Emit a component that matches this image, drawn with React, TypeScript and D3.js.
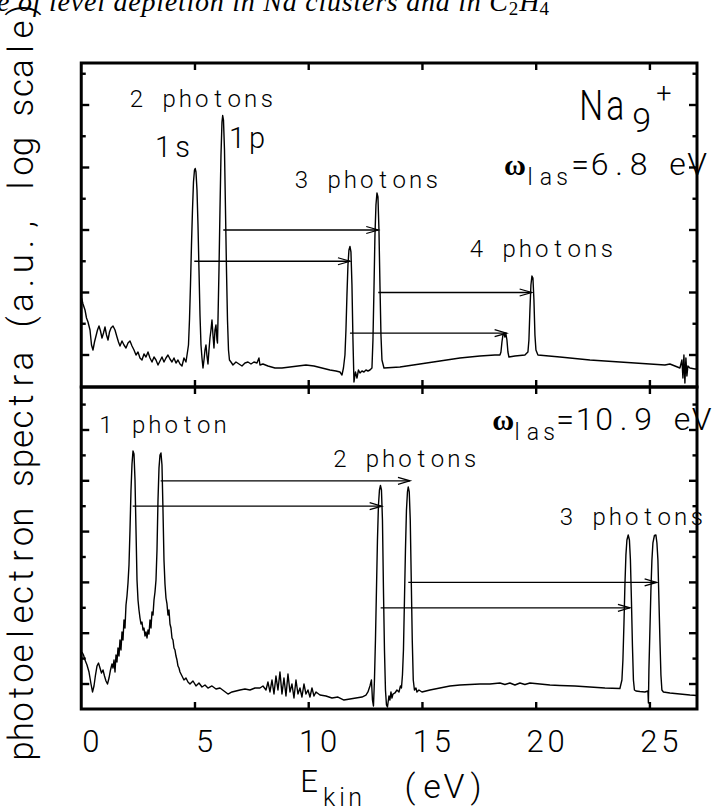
import React from 'react';
import * as d3 from 'd3';

const W = 712;
const H = 809;

// ---------- data: kinetic energy (eV) and log10 intensity (decades) ----------
const topEnergy = [
  0.01, 0.077, 0.165, 0.231, 0.297, 0.385, 0.451, 0.516, 0.582, 0.648, 0.714, 0.78, 0.846, 0.912, 0.978,
  1.044, 1.11, 1.176, 1.242, 1.308, 1.396, 1.484, 1.571, 1.637, 1.703, 1.791, 1.879, 1.967, 2.055, 2.143,
  2.231, 2.319, 2.407, 2.495, 2.582, 2.67, 2.758, 2.846, 2.934, 3.022, 3.11, 3.198, 3.286, 3.374, 3.462,
  3.549, 3.637, 3.725, 3.813, 3.901, 3.989, 4.077, 4.165, 4.253, 4.341, 4.429, 4.516, 4.604, 4.67, 4.714,
  4.758, 4.802, 4.846, 4.89, 4.934, 4.978, 5.009, 5.044, 5.088, 5.132, 5.176, 5.22, 5.264, 5.308, 5.352,
  5.396, 5.44, 5.484, 5.527, 5.571, 5.615, 5.659, 5.703, 5.747, 5.791, 5.835, 5.879, 5.923, 5.967, 5.989,
  6.011, 6.055, 6.099, 6.143, 6.187, 6.218, 6.253, 6.297, 6.341, 6.385, 6.429, 6.473, 6.516, 6.582,
  6.67, 6.802, 6.934, 7.066, 7.198, 7.33, 7.462, 7.593, 7.725, 7.813, 7.857, 7.989, 8.209, 8.516, 8.824,
  9.176, 9.527, 9.879, 10.231, 10.582, 10.934, 11.198, 11.374, 11.462, 11.527, 11.593,
  11.637, 11.681, 11.725, 11.769, 11.813, 11.857, 11.901, 11.945, 11.989, 12.055, 12.121, 12.187, 12.253,
  12.341, 12.429, 12.516, 12.604, 12.692, 12.78,
  12.824, 12.868, 12.912, 12.956, 13.0, 13.044, 13.088, 13.132, 13.176, 13.22, 13.308, 14.011, 14.89,
  15.769, 16.648, 17.527, 18.187, 18.407,
  18.451, 18.495, 18.538, 18.582, 18.626, 18.67, 18.714, 18.758, 18.802, 19.066, 19.505, 19.637,
  19.681, 19.725, 19.769, 19.813, 19.857, 19.901, 19.945, 19.989, 20.077, 21.044, 22.363, 23.681, 25.0,
  25.659, 25.879, 26.099, 26.319, 26.407, 26.451, 26.495, 26.538, 26.582, 26.626, 26.67, 26.758, 26.978, 27.066,
];
const topLogI = [
  0.912, 0.816, 0.72, 0.592, 0.528, 0.4, 0.16, 0.08, 0.208, 0.304, 0.4, 0.464, 0.384, 0.272, 0.352,
  0.448, 0.32, 0.24, 0.368, 0.432, 0.464, 0.4, 0.288, 0.208, 0.144, 0.224, 0.16, 0.112, 0.192, 0.224,
  0.144, 0.08, 0.0, 0.048, -0.048, -0.08, 0.016, -0.032, 0.048, -0.048, -0.112, -0.032, -0.08, -0.16, -0.096,
  -0.032, -0.112, -0.048, 0.0, -0.064, -0.112, -0.048, -0.128, -0.08, -0.144, -0.176, -0.048, -0.112, 0.048, 0.16,
  0.56, 1.12, 1.76, 2.32, 2.768, 2.96, 2.984, 2.928, 2.64, 2.08, 1.36, 0.64, 0.16, -0.048, -0.208,
  -0.08, 0.08, 0.16, -0.016, -0.144, 0.08, 0.272, 0.4, 0.56, 0.32, 0.112, 0.4, 0.48, 0.24, 0.192,
  0.56, 1.36, 2.32, 3.2, 3.728, 3.832, 3.76, 3.28, 2.32, 1.36, 0.56, 0.08, -0.08, -0.112,
  -0.16, -0.112, -0.144, -0.176, -0.128, -0.112, -0.144, -0.112, -0.128, -0.048, -0.16, -0.144, -0.176, -0.208, -0.208,
  -0.192, -0.176, -0.16, -0.176, -0.208, -0.24, -0.256, -0.272, -0.32, -0.208, 0.0,
  0.4, 0.96, 1.44, 1.68, 1.736, 1.648, 1.12, 0.24, -0.432, -0.272, -0.368, -0.24, -0.288,
  -0.256, -0.272, -0.24, -0.256, -0.24, -0.208,
  0.24, 1.04, 1.92, 2.4, 2.592, 2.528, 2.0, 1.12, 0.32, -0.08, -0.208, -0.192, -0.144,
  -0.096, -0.048, -0.016, 0.0, 0.0,
  0.048, 0.208, 0.32, 0.344, 0.288, 0.336, 0.24, 0.048, -0.032, -0.016, 0.0, 0.048,
  0.24, 0.72, 1.12, 1.264, 1.232, 0.88, 0.32, 0.08, 0.0, -0.032, -0.08, -0.112, -0.144,
  -0.16, -0.144, -0.176, -0.208, -0.08, -0.368, 0.0, -0.448, -0.048, -0.336, -0.176, -0.208, -0.224, -0.224,
];

const botEnergy = [
  0.033, 0.099, 0.165, 0.253, 0.341, 0.429, 0.495, 0.56, 0.626, 0.692, 0.758, 0.824, 0.89, 0.956, 1.022,
  1.088, 1.154, 1.22, 1.286, 1.352, 1.396, 1.44, 1.484, 1.527, 1.571, 1.615, 1.659, 1.703, 1.747, 1.791,
  1.835, 1.879, 1.923, 1.967, 2.011, 2.055, 2.099, 2.143, 2.187, 2.231, 2.275, 2.319, 2.363, 2.407, 2.451,
  2.495, 2.538, 2.582, 2.626, 2.67, 2.714, 2.758, 2.802, 2.846, 2.89, 2.934, 2.978, 3.022, 3.066, 3.11,
  3.154, 3.198, 3.242, 3.286, 3.33, 3.374, 3.418, 3.462, 3.505, 3.549, 3.593, 3.637, 3.681, 3.725, 3.769,
  3.813, 3.857, 3.901, 3.945, 3.989, 4.033, 4.077, 4.121, 4.165, 4.209, 4.253, 4.297, 4.341, 4.429, 4.516,
  4.604, 4.692, 4.78, 4.912, 5.044, 5.176, 5.308, 5.44, 5.571, 5.747, 5.923, 6.099, 6.275, 6.451, 6.626,
  6.802, 6.978, 7.198, 7.418, 7.637, 7.857,
  7.989, 8.121, 8.209, 8.297, 8.385, 8.473, 8.56, 8.648, 8.736, 8.824, 8.912, 9.0, 9.088, 9.176, 9.264,
  9.352, 9.44, 9.527, 9.615, 9.703, 9.791, 9.879, 9.967, 10.055, 10.143, 10.231, 10.319, 10.495, 10.758,
  11.022, 11.286, 11.549, 11.813, 12.077, 12.341, 12.516, 12.604, 12.692, 12.758, 12.802, 12.846,
  12.89, 12.934, 12.978, 13.022, 13.066, 13.11, 13.154, 13.198, 13.242, 13.286, 13.33, 13.374, 13.418, 13.462,
  13.527, 13.571, 13.615, 13.659, 13.703, 13.791, 13.879, 13.967, 14.033, 14.077, 14.121,
  14.165, 14.209, 14.253, 14.297, 14.341, 14.376, 14.42, 14.464, 14.508, 14.552, 14.596, 14.648, 14.714,
  14.758, 14.846, 14.978, 15.33, 15.769, 16.209, 16.648, 17.088, 17.527, 17.967, 18.407, 18.626, 18.846,
  19.066, 19.286, 19.505, 19.725, 20.165, 20.604, 21.044, 21.703, 22.363, 23.022, 23.681, 23.769,
  23.813, 23.857, 23.901, 23.945, 23.989, 24.046, 24.099, 24.143, 24.187, 24.231, 24.275, 24.319, 24.385,
  24.56, 24.78, 24.912, 24.934, 24.956,
  25.0, 25.044, 25.088, 25.132, 25.198, 25.264, 25.308, 25.352, 25.396, 25.44, 25.484, 25.527, 25.593,
  25.879, 26.319, 26.758, 27.066,
];
const botLogI = [
  0.63, 0.571, 0.472, 0.374, 0.236, 0.0, -0.157, -0.039, 0.177, 0.354, 0.413, 0.315, 0.217, 0.276, 0.157,
  0.059, 0.0, 0.118, 0.276, 0.394, 0.315, 0.472, 0.236, 0.571, 0.433, 0.709, 0.551, 0.866, 0.669, 1.024,
  0.866, 1.26, 1.102, 1.555, 1.732, 1.988, 2.343, 3.031, 3.819, 4.331, 4.587, 4.528, 4.016, 3.031, 2.047,
  1.654, 1.457, 1.299, 1.181, 1.22, 1.063, 1.102, 0.945, 1.024, 0.906, 1.063, 0.984, 1.26, 1.102, 1.417,
  1.358, 1.654, 1.811, 2.047, 2.638, 3.622, 4.252, 4.508, 4.547, 4.311, 3.425, 2.441, 1.969, 1.693, 1.575,
  1.358, 1.457, 1.181, 1.102, 0.906, 0.866, 0.709, 0.669, 0.551, 0.472, 0.354, 0.315, 0.236, 0.157, 0.079,
  0.118, 0.039, 0.0, 0.059, -0.039, 0.02, -0.059, -0.02, -0.079, -0.039, -0.098, -0.079, -0.138, -0.197, -0.157,
  -0.138, -0.118, -0.098, -0.118, -0.079, -0.079,
  -0.039, -0.118, 0.039, -0.157, 0.079, -0.197, 0.157, -0.118, 0.236, -0.197, 0.118, -0.236, 0.197, -0.157, 0.0,
  -0.276, 0.079, -0.197, -0.079, -0.256, 0.0, -0.197, -0.118, -0.256, -0.079, -0.236, -0.157, -0.217, -0.236,
  -0.276, -0.256, -0.315, -0.295, -0.276, -0.256, -0.217, -0.157, -0.039, 0.079, -0.315, -0.433,
  0.079, 0.866, 1.85, 2.835, 3.524, 3.819, 3.907, 3.819, 3.228, 1.85, 0.669, -0.118, -0.413, -0.453,
  -0.236, -0.315, -0.157, -0.276, -0.197, -0.177, -0.118, -0.157, -0.039, -0.079, 0.177,
  0.669, 1.654, 2.638, 3.425, 3.78, 3.878, 3.78, 3.228, 2.047, 0.866, 0.079, -0.118, -0.079,
  -0.157, -0.118, -0.157, -0.118, -0.079, -0.039, -0.02, -0.01, 0.0, 0.0, 0.02, -0.01, 0.02,
  -0.02, 0.02, -0.01, 0.02, 0.0, -0.02, -0.03, -0.039, -0.059, -0.079, -0.089, 0.079,
  0.472, 1.161, 1.949, 2.539, 2.835, 2.933, 2.835, 2.441, 1.654, 0.768, 0.079, -0.118, -0.138,
  -0.148, -0.157, -0.138, -0.374, 0.276,
  1.063, 1.85, 2.441, 2.776, 2.923, 2.933, 2.776, 2.441, 1.654, 0.866, 0.177, -0.118, -0.157,
  -0.177, -0.197, -0.217, -0.226,
];

// arrows: from energy, to energy, level (log10)
const topArrowFrom = [6.244, 4.969, 13.057, 11.813];
const topArrowTo = [13.057, 11.813, 19.8, 18.701];
const topArrowLevel = [2.0, 1.5, 1.0, 0.35];
const botArrowFrom = [3.492, 2.262, 14.376, 13.163];
const botArrowTo = [14.451, 13.207, 25.295, 24.121];
const botArrowLevel = [4.0, 3.5, 2.0, 1.5];

// ticks
const xTickValues = [5, 10, 15, 20, 25];
const xLabelValues = [0, 5, 10, 15, 20, 25];
const xTickLabels = ['0', '5', '10', '15', '20', '25'];
const topMajor = [0, 1, 2, 3, 4];
const topMinor = [0.5, 1.5, 2.5, 3.5, 4.5];
const botMajor = [0, 1, 2, 3, 4, 5];
const botMinor = [0.5, 1.5, 2.5, 3.5, 4.5, 5.5];

// ---------- layout ----------
const LEFT = 81.25;
const RIGHT = 697;
const TOP = 63;
const MID = 387;
const BOTTOM = 709;

const FONT = "'DejaVu Sans', sans-serif";
const LIGHT = "Roboto, 'DejaVu Sans', sans-serif";

const xScale = d3.scaleLinear().domain([0, 27.07]).range([LEFT, RIGHT]);
const yTop = d3.scaleLinear().domain([-0.512, 4.672]).range([MID, TOP]);
const yBot = d3.scaleLinear().domain([-0.492, 5.846]).range([BOTTOM, MID]);

type MonoProps = {
  x: number; y: number; text: string; cell: number; size: number;
  sx?: number; family?: string; weight?: string | number;
};

function Mono({ x, y, text, cell, size, sx = 1, family = LIGHT, weight = 300 }: MonoProps) {
  const chars = Array.from(text);
  return (
    <g transform={`translate(${x},${y}) scale(${sx},1)`}>
      <text fontFamily={family} fontSize={size} fontWeight={weight} textAnchor="middle" fill="#000">
        {chars.map((c, i) =>
          c === ' ' ? null : (
            <tspan key={i} x={(i * cell) / sx} y={0}>
              {c}
            </tspan>
          )
        )}
      </text>
    </g>
  );
}

function Panel({ energy, logI, y, major, minor, from, to, level, yTopPx, yBotPx }: any) {
  const pts: [number, number][] = energy.map((e: number, i: number) => [e, logI[i]]);
  const line = d3
    .line<[number, number]>()
    .x((d) => xScale(d[0]))
    .y((d) => y(d[1]));
  const majorLen = 8;
  const minorLen = 4.5;
  const xLen = 7;
  return (
    <g>
      <path d={line(pts) || ''} fill="none" stroke="#000" strokeWidth={1.4} strokeLinejoin="round" />
      {from.map((f: number, i: number) => {
        const x1 = xScale(f);
        const x2 = xScale(to[i]);
        const yy = y(level[i]);
        return (
          <g key={i} stroke="#000" strokeWidth={1.3} fill="none">
            <line x1={x1} y1={yy} x2={x2} y2={yy} />
            <path d={`M${x2 - 12},${yy - 3.5}L${x2},${yy}L${x2 - 12},${yy + 3.5}`} />
          </g>
        );
      })}
      <g stroke="#000" strokeWidth={2.4}>
        {major.map((v: number) => (
          <g key={'M' + v}>
            <line x1={LEFT} x2={LEFT + majorLen} y1={y(v)} y2={y(v)} />
            <line x1={RIGHT} x2={RIGHT - majorLen} y1={y(v)} y2={y(v)} />
          </g>
        ))}
        {minor.map((v: number) => (
          <g key={'m' + v}>
            <line x1={LEFT} x2={LEFT + minorLen} y1={y(v)} y2={y(v)} />
            <line x1={RIGHT} x2={RIGHT - minorLen} y1={y(v)} y2={y(v)} />
          </g>
        ))}
        {xTickValues.map((v) => (
          <g key={'x' + v}>
            <line x1={xScale(v)} x2={xScale(v)} y1={yTopPx} y2={yTopPx + xLen} />
            <line x1={xScale(v)} x2={xScale(v)} y1={yBotPx} y2={yBotPx - xLen} />
          </g>
        ))}
      </g>
      <rect x={LEFT} y={yTopPx} width={RIGHT - LEFT} height={yBotPx - yTopPx} fill="none" stroke="#000" strokeWidth={3} />
    </g>
  );
}

export default function App() {
  const labelCell = 16.3;
  const labelSize = 24;
  return (
    <svg
      width={W}
      height={H}
      viewBox={`0 0 ${W} ${H}`}
      style={{ position: 'absolute', left: 0, top: 0, background: '#fff' }}
    >
      <rect x={0} y={0} width={W} height={H} fill="#fff" />
      {/* caption fragment */}
      <text x={-3} y={11} fontFamily="'Liberation Serif', 'Times New Roman', serif" fontStyle="italic" fontSize={28} fill="#000">
        <tspan textLength={511} lengthAdjust="spacing">e of level depletion in Na clusters and in C</tspan>
        <tspan fontStyle="normal" fontSize={19} dy={4}>2</tspan>
        <tspan dy={-4} dx={1}>H</tspan>
        <tspan fontStyle="normal" fontSize={19} dy={4}>4</tspan>
      </text>

      <Panel energy={topEnergy} logI={topLogI} y={yTop} major={topMajor} minor={topMinor}
        from={topArrowFrom} to={topArrowTo} level={topArrowLevel} yTopPx={TOP} yBotPx={MID} />
      <Panel energy={botEnergy} logI={botLogI} y={yBot} major={botMajor} minor={botMinor}
        from={botArrowFrom} to={botArrowTo} level={botArrowLevel} yTopPx={MID} yBotPx={BOTTOM} />

      {/* top panel annotations */}
      <Mono x={136.5} y={106.7} text="2 photons" cell={labelCell} size={labelSize} />
      <Mono x={163} y={156.7} text="1s" cell={19.5} size={29} />
      <Mono x={237} y={148.3} text="1p" cell={20} size={29} />
      <Mono x={301.5} y={188.3} text="3 photons" cell={labelCell} size={labelSize} />
      <Mono x={476.5} y={256.7} text="4 photons" cell={labelCell} size={labelSize} />
      <Mono x={591.3} y={120} text="Na" cell={24} size={42} sx={0.8} />
      <text x={641.7} y={131.7} fontFamily={LIGHT} fontWeight={300} fontSize={34} textAnchor="middle">9</text>
      <text x={664} y={103} fontFamily={LIGHT} fontWeight={300} fontSize={27} textAnchor="middle">+</text>
      <text x={515} y={175} fontFamily="'Liberation Serif', serif" fontWeight="bold" fontSize={30} textAnchor="middle">ω</text>
      <Mono x={530} y={185} text="las" cell={16} size={23} />
      <Mono x={580} y={175} text="=6.8 eV" cell={19.5} size={32} />

      {/* bottom panel annotations */}
      <Mono x={106} y={433.3} text="1 photon" cell={labelCell} size={labelSize} />
      <Mono x={339.8} y={466.7} text="2 photons" cell={labelCell} size={labelSize} />
      <Mono x={566.5} y={525} text="3 photons" cell={labelCell} size={labelSize} />
      <text x={503.3} y={430} fontFamily="'Liberation Serif', serif" fontWeight="bold" fontSize={30} textAnchor="middle">ω</text>
      <Mono x={517} y={440} text="las" cell={16} size={23} />
      <Mono x={565} y={430} text="=10.9 eV" cell={19.5} size={32} />

      {/* x tick labels */}
      {xLabelValues.map((v, i) => {
        const lab = xTickLabels[i];
        const cell = 21;
        const c = xScale(v) + 9.5;
        return <Mono key={v} x={c - ((lab.length - 1) * cell) / 2} y={752} text={lab} cell={cell} size={31} />;
      })}

      {/* x axis title */}
      <Mono x={309} y={792} text="E" cell={20} size={31} />
      <Mono x={329} y={806} text="kin" cell={13} size={25} />
      <Mono x={410} y={798} text="(eV)" cell={22} size={34} />

      {/* y axis title */}
      <g transform="translate(33.3,751) rotate(-90)">
        <Mono x={0} y={0} text="photoelectron spectra (a.u., log scale)" cell={19.5} size={35} />
      </g>
    </svg>
  );
}
